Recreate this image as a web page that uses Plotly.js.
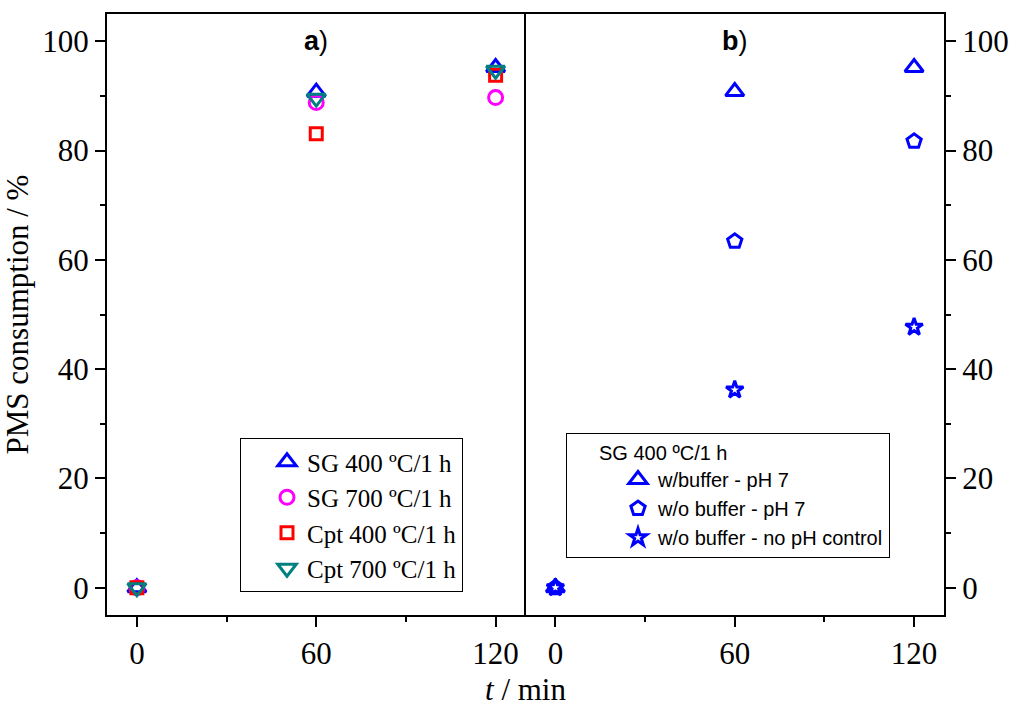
<!DOCTYPE html>
<html>
<head>
<meta charset="utf-8">
<script src="https://cdn.plot.ly/plotly-3.0.1.min.js"></script>
<style>html,body{margin:0;padding:0;background:#fff;}#chart{width:1013px;height:709px;}</style>
</head>
<body>
<div id="chart"></div>
<script>
// ---- data ----
const times = [0, 60, 120];
const xTickVals = [0, 60, 120];
const yTickVals = [0, 20, 40, 60, 80, 100];

// panel a
const namesA = ["SG 400 ºC/1 h", "SG 700 ºC/1 h", "Cpt 400 ºC/1 h", "Cpt 700 ºC/1 h"];
const sg400 = [0, 90.7, 95.2];
const sg700 = [0, 88.8, 89.7];
const cpt400 = [0, 83.1, 93.8];
const cpt700 = [0, 89.6, 94.7];

// panel b (SG 400 ºC/1 h)
const legendTitleB = "SG 400 ºC/1 h";
const namesB = ["w/buffer - pH 7", "w/o buffer - pH 7", "w/o buffer - no pH control"];
const withBuffer = [0, 90.8, 95.2];
const noBufferPH7 = [0, 63.4, 81.7];
const noBufferNoPH = [0, 36.2, 47.7];

const serif = "'Liberation Serif', 'Times New Roman', serif";
const sans = "'Liberation Sans', Arial, sans-serif";

function tr(y, name, symbol, color, size, xa, ya, leg) {
  return {
    x: times, y: y, name: name, type: 'scatter', mode: 'markers',
    xaxis: xa, yaxis: ya, legend: leg,
    marker: {symbol: symbol, size: size, color: color, line: {color: color, width: 3}},
    cliponaxis: false
  };
}

const data = [
  tr(sg400, namesA[0], 'triangle-up-open', '#0000FF', 16, 'x', 'y', 'legend'),
  tr(sg700, namesA[1], 'circle-open', '#FF00FF', 14, 'x', 'y', 'legend'),
  tr(cpt400, namesA[2], 'square-open', '#FF0000', 12, 'x', 'y', 'legend'),
  tr(cpt700, namesA[3], 'triangle-down-open', '#008080', 16, 'x', 'y', 'legend'),
  tr(withBuffer, namesB[0], 'triangle-up-open', '#0000FF', 16, 'x2', 'y2', 'legend2'),
  tr(noBufferPH7, namesB[1], 'pentagon-open', '#0000FF', 15, 'x2', 'y2', 'legend2'),
  tr(noBufferNoPH, namesB[2], 'star-open', '#0000FF', 13, 'x2', 'y2', 'legend2')
];

const xCommon = {
  range: [-10, 130], tickvals: xTickVals, ticks: 'outside', ticklen: 10, tickwidth: 2,
  tickcolor: '#000', showline: true, linecolor: '#000', linewidth: 2, mirror: true,
  showgrid: false, zeroline: false, fixedrange: true,
  tickfont: {family: serif, size: 31, color: '#000'},
  minor: {dtick: 30, tick0: 0, ticks: 'outside', ticklen: 5, tickwidth: 2, tickcolor: '#000', showgrid: false}
};
const yCommon = {
  range: [-5, 105], tickvals: yTickVals, ticks: 'outside', ticklen: 10, tickwidth: 2,
  tickcolor: '#000', showline: true, linecolor: '#000', linewidth: 2,
  showgrid: false, zeroline: false, fixedrange: true,
  tickfont: {family: serif, size: 31, color: '#000'},
  minor: {dtick: 10, tick0: 0, ticks: 'outside', ticklen: 5, tickwidth: 2, tickcolor: '#000', showgrid: false}
};

const layout = {
  width: 1013, height: 709,
  margin: {l: 107, r: 69, t: 14, b: 94},
  paper_bgcolor: '#fff', plot_bgcolor: '#fff',
  showlegend: true,
  xaxis: Object.assign({}, xCommon, {domain: [0, 0.5], anchor: 'y'}),
  xaxis2: Object.assign({}, xCommon, {domain: [0.5, 1], anchor: 'y2'}),
  yaxis: Object.assign({}, yCommon, {anchor: 'x', side: 'left', mirror: false,
    title: {text: 'PMS consumption / %', font: {family: serif, size: 31, color: '#000'}, standoff: 6}}),
  yaxis2: Object.assign({}, yCommon, {anchor: 'x2', side: 'right', mirror: true}),
  legend: {
    x: (240 - 107) / 837, y: (615 - 438) / 601, xanchor: 'left', yanchor: 'top',
    bgcolor: '#fff', bordercolor: '#000', borderwidth: 1,
    font: {family: serif, size: 25, color: '#000'},
    tracegroupgap: 0, itemclick: false, itemdoubleclick: false, indentation: 26
  },
  legend2: {
    x: (566 - 107) / 837, y: (615 - 433) / 601, xanchor: 'left', yanchor: 'top',
    bgcolor: '#fff', bordercolor: '#000', borderwidth: 1,
    font: {family: sans, size: 20, color: '#000'},
    title: {text: '\u2003\u2002' + legendTitleB, font: {family: sans, size: 20, color: '#000'}, side: 'top'},
    itemclick: false, itemdoubleclick: false, indentation: 51
  },
  annotations: [
    {text: '<b>a</b>)', xref: 'x', yref: 'paper', x: 60, y: (615 - 41) / 601, showarrow: false,
     font: {family: sans, size: 27, color: '#000'}, xanchor: 'center', yanchor: 'middle'},
    {text: '<b>b</b>)', xref: 'x2', yref: 'paper', x: 60, y: (615 - 41) / 601, showarrow: false,
     font: {family: sans, size: 27, color: '#000'}, xanchor: 'center', yanchor: 'middle'},
    {text: '<i>t</i> / min', xref: 'paper', yref: 'paper', x: 0.5, y: (615 - 690) / 601, showarrow: false,
     font: {family: serif, size: 31, color: '#000'}, xanchor: 'center', yanchor: 'middle'}
  ]
};

Plotly.newPlot('chart', data, layout, {staticPlot: true, displayModeBar: false});
</script>
</body>
</html>
